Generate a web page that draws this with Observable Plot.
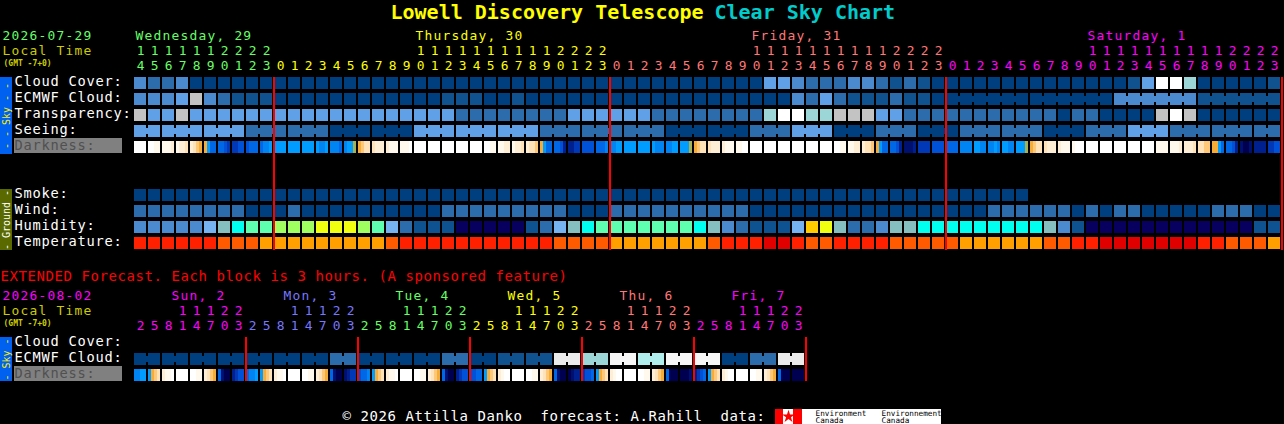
<!DOCTYPE html>
<html>
<head>
<meta charset="utf-8">
<script src="https://cdn.jsdelivr.net/npm/d3@7"></script>
<script src="https://cdn.jsdelivr.net/npm/@observablehq/plot@0.6"></script>
<style>
html,body{margin:0;padding:0;background:#000}svg{display:block}
.sp129 text{letter-spacing:1.23px}
.sp137 text{letter-spacing:0.75px}
.sp14 text{letter-spacing:0.57px}
</style>
</head>
<body>
<div id="chart"></div>
<script>
// ---- palettes (level -> colour) ----
const blueColors = ["#003f7f","#10528f","#2c6cac","#4b8ace","#60a0e6","#9cd6d6","#c3c3c3","#ebebeb","#ffffff","#b0eeee","#f6f6f6"];
const humidColors = ["#08005e","#0f5291","#2c6cac","#4b8ace","#76b3f2","#85bfc0","#00ffee","#5fffb0","#9fff60","#f0ff10","#ffcc00"];
const tempColors = ["#e00000","#ff2000","#ff5a00","#ff9f00"];
const darkColors = ["#ffffff","#fff8ec","#ffeed6","#ffe2b8","#ffc878","#f8ac38","#a8b050","#009cff","#0084f4","#0068e6","#0050d8","#0038b8","#002090","#001070","#000050"];

// ---- hourly forecast rows (one level per column) ----
const cloudCover = [3,2,2,3,0,0,0,0,0,0,0,0,0,0,0,0,0,0,0,0,0,0,0,0,0,0,0,0,0,0,0,0,0,0,0,0,0,0,0,0,0,0,0,0,0,4,4,3,2,2,2,3,3,2,1,2,1,0,0,0,0,0,0,0,0,0,0,0,0,0,0,1,4,8,8,5,0,0,0,0,0,1];
const ecmwfCloud = [3,3,3,4,6,3,2,1,1,1,0,0,0,0,0,0,0,0,0,0,0,0,1,1,1,0,0,1,0,0,0,0,0,0,0,0,0,0,0,0,0,0,0,0,0,0,0,3,2,4,2,1,1,1,2,1,1,0,0,0,0,0,0,0,0,0,0,0,0,0,3,3,3,3,3,3,1,1,1,1,1,1];
const transparency = [6,4,4,6,4,4,4,4,4,4,4,4,4,4,4,4,4,4,4,4,4,4,4,2,2,2,2,2,2,2,2,4,4,4,4,4,4,2,2,2,2,2,2,2,2,5,8,8,5,5,6,6,6,4,4,2,2,2,2,2,2,2,2,2,2,2,0,2,2,0,0,0,0,6,8,6,0,0,0,0,0,0];
const seeing = [4,4,4,4,4,4,4,4,2,2,2,2,2,2,0,0,0,0,0,0,4,4,4,4,4,4,4,4,4,2,2,2,2,2,2,2,2,2,0,0,0,0,0,0,2,2,2,4,4,4,0,0,0,2,2,2,0,0,0,2,2,2,2,2,2,0,0,0,2,2,2,4,4,4,2,2,2,2,2,2,2,2];
// four readings per column, left to right
const darkness = [
0,0,0,0, 0,0,1,1, 1,1,1,2, 1,2,2,3, 2,3,4,5, 5,7,9,9, 9,9,10,11, 11,11,10,10, 10,9,9,9, 9,8,8,7,
7,7,7,7, 7,7,7,7, 7,7,7,7, 7,8,8,7, 8,8,8,9, 8,7,7,6, 5,4,3,3, 3,2,2,2, 2,1,1,1, 1,1,1,0,
0,0,0,0, 0,0,0,0, 0,0,0,0, 0,0,0,0, 0,0,0,0, 0,0,1,1, 1,1,2,2, 1,2,2,3, 2,3,3,4, 5,7,9,9,
9,9,10,12, 12,12,11,11, 10,10,10,10, 9,9,9,8, 8,8,7,7, 7,7,7,7, 7,7,7,7, 7,8,8,8, 8,8,7,7,
7,7,7,6, 5,4,3,3, 3,2,2,2, 2,1,1,1, 1,1,0,0, 0,0,0,0, 0,0,0,0, 0,0,0,0, 0,0,0,0, 0,0,0,0,
0,0,0,0, 0,0,1,1, 1,1,2,2, 2,3,3,4, 5,7,9,9, 9,9,10,12, 13,13,13,12, 11,11,11,11, 10,10,10,10, 9,9,9,9,
8,8,8,8, 7,7,8,8, 8,8,7,8, 7,7,8,8, 7,7,7,6, 5,4,3,3, 3,2,2,2, 2,1,1,1, 1,0,0,0, 0,0,0,0,
0,0,0,0, 0,0,0,0, 0,0,0,0, 0,0,0,0, 1,1,1,1, 1,1,1,2, 2,2,2,3, 3,3,4,4, 5,5,7,9, 9,9,10,12,
13,14,14,13, 12,12,12,12, 11,11,10,10];
const smoke = [0,0,0,0,0,0,0,0,0,0,0,0,0,0,0,0,0,0,0,0,0,0,0,0,0,0,0,0,0,0,0,0,0,0,0,0,0,0,0,0,0,0,0,0,0,0,0,0,0,0,0,0,0,0,0,0,0,0,0,0,0,0,0,0];
const wind = [2,2,2,2,2,2,2,2,0,0,0,2,0,0,0,0,0,0,0,0,0,0,2,2,2,2,2,2,2,2,2,0,0,0,2,2,2,2,2,2,2,2,2,2,0,0,0,0,0,0,0,0,0,0,0,0,0,0,0,0,0,2,2,2,2,2,2,0,2,0,2,2,0,0,0,0,0,2,2,2,0,0];
const humidity = [3,3,3,3,3,4,5,6,7,7,8,8,8,9,9,9,8,7,4,2,1,1,1,0,0,0,0,0,1,2,4,5,6,7,7,7,7,7,7,7,6,5,3,2,1,1,1,4,10,9,5,2,2,3,5,5,6,6,6,6,6,6,6,6,6,5,3,1,0,0,0,0,0,0,0,0,0,0,0,0,1,1];
const temperature = [1,1,1,1,1,1,2,2,2,3,3,3,3,3,3,3,3,3,2,1,1,1,1,1,1,1,1,1,1,1,2,2,2,2,3,3,3,3,3,3,3,2,1,1,1,0,0,1,2,2,1,1,1,1,2,2,2,2,2,3,3,3,3,3,3,2,2,1,1,0,0,0,0,0,0,0,1,1,2,2,2,3];

// ---- extended (3-hour) forecast rows ----
const extEcmwf = [0,0,0,0,0,0,0,0,0,0,0,0,0,0,2,2,0,0,0,0,0,0,2,2,0,0,1,1,1,1,7,7,5,5,10,10,9,9,10,10,10,10,0,0,2,2,7,7];
const extDarkness = [
8,8,7,7, 7,5,4,3, 2,1,1,0, 0,0,0,0, 0,0,1,1, 2,3,4,5, 9,13,14,14, 12,11,10,10,
9,8,8,7, 7,5,4,3, 2,1,1,0, 0,0,0,0, 0,0,1,1, 2,3,4,5, 9,13,14,14, 13,12,11,11,
10,9,9,8, 7,5,4,3, 2,1,1,0, 0,0,0,0, 0,0,1,1, 2,3,4,5, 9,13,14,14, 12,11,10,10,
10,10,9,9, 7,5,4,3, 2,1,0,0, 0,0,0,0, 0,0,1,1, 2,3,4,5, 9,13,14,14, 14,13,12,12,
11,10,10,9, 7,5,4,3, 2,1,0,0, 0,0,0,0, 0,0,1,1, 2,3,4,5, 9,14,14,14, 14,14,14,13,
12,11,10,9, 7,5,4,3, 2,1,0,0, 0,0,0,0, 0,0,1,1, 2,3,4,5, 9,14,14,14, 14,14,14,14];

// ---- labels ----
const skyLabels = ["Cloud Cover:","ECMWF Cloud:","Transparency:","Seeing:","Darkness:"];
const groundLabels = ["Smoke:","Wind:","Humidity:","Temperature:"];
const extLabels = ["Cloud Cover:","ECMWF Cloud:","Darkness:"];
const wedHours = [14,15,16,17,18,19,20,21,22,23];
const fullDayHours = [0,1,2,3,4,5,6,7,8,9,10,11,12,13,14,15,16,17,18,19,20,21,22,23];
const extHours = [2,5,8,11,14,17,20,23];
const GREEN = "#66ff66", YELLOW = "#ffff00", SALMON = "#ff7777", MAGENTA = "#ff00ff", BLUE = "#7777ff", OLIVE = "#cccc00";
const days = [
  {label:"Wednesday, 29", col:0.07, start:0, hours:wedHours, fill:GREEN},
  {label:"Thursday, 30", col:20.07, start:10, hours:fullDayHours, fill:YELLOW},
  {label:"Friday, 31", col:44.07, start:34, hours:fullDayHours, fill:SALMON},
  {label:"Saturday, 1", col:68.07, start:58, hours:fullDayHours, fill:MAGENTA}
];
const extDays = [
  {label:"Sun, 2", col:2.64, start:0, fill:MAGENTA},
  {label:"Mon, 3", col:10.64, start:8, fill:BLUE},
  {label:"Tue, 4", col:18.64, start:16, fill:GREEN},
  {label:"Wed, 5", col:26.64, start:24, fill:YELLOW},
  {label:"Thu, 6", col:34.64, start:32, fill:SALMON},
  {label:"Fri, 7", col:42.64, start:40, fill:MAGENTA}
];
const midnightCols = [10,34,58,82];
const extMidnightCols = [8,16,24,32,40,48];

// ---- layout in grid units: one column = 14px, one row = 16px ----
const W = 1284, H = 424, X0 = 134, Y0 = 77, CW = 14, RH = 16;
const CELL = 12/CW, CELLH = 12/RH;
const EXT = 16.25;
const colPx = p => (p - X0)/CW, rowPx = p => (p - Y0)/RH;
const MONO = "DejaVu Sans Mono";

const colorKeys = [...blueColors.map((_,i)=>"b"+i),...humidColors.map((_,i)=>"h"+i),...tempColors.map((_,i)=>"t"+i),...darkColors.map((_,i)=>"d"+i)];
const colorRange = [...blueColors,...humidColors,...tempColors,...darkColors];

const cells = (values, row, prefix) => values.map((v,i)=>({x1:i,x2:i+CELL,y1:row,y2:row+CELLH,key:prefix+v}));
const links = (values, row, linked) => values.flatMap((v,i)=> i<values.length-1 && linked(i)
  ? [{x1:i+CELL-0.01,x2:i+1.01,y1:row+3/RH,y2:row+9/RH,key:"b"+v}] : []);
const subCells = (values,row) => values.map((v,i)=>{
  const n = Math.floor(i/4), k = i%4;
  return {x1:n+k*3/CW,x2:n+(k+1)*3/CW,y1:row,y2:row+CELLH,key:"d"+v};
});
const blockData = [
  ...cells(cloudCover,0,"b"), ...cells(ecmwfCloud,1,"b"), ...cells(transparency,2,"b"), ...cells(seeing,3,"b"),
  ...links(seeing,3,i=>(i+1)%3!==2),
  ...links(ecmwfCloud,1,i=>i>=58 && (i-57)%6!==0),
  ...subCells(darkness,4),
  ...cells(smoke,7,"b"), ...cells(wind,8,"b"), ...cells(humidity,9,"h"), ...cells(temperature,10,"t"),
  ...cells(extEcmwf,EXT+1,"b"),
  ...links(extEcmwf,EXT+1,i=>i%2===0),
  ...subCells(extDarkness,EXT+2)
];
const rectBlocks = Plot.rect(blockData,{x1:"x1",x2:"x2",y1:"y1",y2:"y2",fill:d=>d.key,shapeRendering:"crispEdges"});

const bands = [
  {x1:colPx(0),x2:colPx(12),y1:rowPx(77),y2:rowPx(154),fill:"#0060f0"},
  {x1:colPx(0),x2:colPx(12),y1:rowPx(189),y2:rowPx(250),fill:"#5a6a00"},
  {x1:colPx(0),x2:colPx(12),y1:rowPx(337),y2:rowPx(381),fill:"#0060f0"},
  {x1:colPx(14),x2:colPx(122),y1:rowPx(138),y2:rowPx(153),fill:"#808080"},
  {x1:colPx(14),x2:colPx(122),y1:rowPx(366),y2:rowPx(381),fill:"#808080"},
  {x1:colPx(775),x2:colPx(941),y1:rowPx(409),y2:rowPx(424),fill:"#ffffff"},
  {x1:colPx(775),x2:colPx(783),y1:rowPx(409),y2:rowPx(424),fill:"#ff0000"},
  {x1:colPx(793),x2:colPx(802),y1:rowPx(409),y2:rowPx(424),fill:"#ff0000"}
];
const bandMarks = bands.map(b=>Plot.rect([b],{x1:"x1",x2:"x2",y1:"y1",y2:"y2",fill:b.fill,shapeRendering:"crispEdges"}));

const spaced = {12.9:"sp129",13.7:"sp137",14:"sp14"};
const label = (text,px,py,fill,fontSize=12.9,extra={}) => Plot.text([text],{
  x:()=>colPx(px),y:()=>rowPx(py),text:d=>d,fill,fontSize,fontFamily:MONO,textAnchor:"start",lineAnchor:"middle",
  ...(spaced[fontSize]?{className:spaced[fontSize]}:{}),...extra});

const textMarks = [
  label("Lowell Discovery Telescope",390,12,"#ffff00",20,{fontWeight:"bold"}),
  label("Clear Sky Chart",714,12,"#00cccc",20,{fontWeight:"bold"}),
  label("2026-07-29",2,35,GREEN),
  label("Local Time",2,50,OLIVE),
  label("(GMT -7+0)",3,62.5,OLIVE,8,{fontWeight:"bold"}),
  label("EXTENDED Forecast. Each block is 3 hours. (A sponsored feature)",0,276,"#ff0000",14),
  label("2026-08-02",2,295,MAGENTA),
  label("Local Time",2,310.5,OLIVE),
  label("(GMT -7+0)",3,323,OLIVE,8,{fontWeight:"bold"}),
  label("\u00a9 2026 Attilla Danko\u00a0\u00a0forecast: A.Rahill\u00a0\u00a0data:",342,416,"#ffffff",14),
  label("Environment",815,413,"#000000",7.7),
  label("Canada",815,420.5,"#000000",7.7),
  label("Environnement",881,413,"#000000",7.7),
  label("Canada",881,420.5,"#000000",7.7)
];
skyLabels.forEach((t,i)=>textMarks.push(label(t,14,81.5+16*i,t==="Darkness:"?"#505050":"#ffffff",13.7)));
groundLabels.forEach((t,i)=>textMarks.push(label(t,14,193.5+16*i,"#ffffff",13.7)));
extLabels.forEach((t,i)=>textMarks.push(label(t,14,341.5+16*i,t==="Darkness:"?"#505050":"#ffffff",13.7)));

const digit = (rows,fill) => Plot.text(rows,{x:d=>d.n+6/CW,y:d=>d.r,text:d=>d.t,fill,fontSize:12.9,fontFamily:MONO,textAnchor:"middle",lineAnchor:"middle"});
const dayLabel = (d,py) => Plot.text([d],{x:"col",y:()=>rowPx(py),text:"label",fill:d.fill,fontSize:12.9,fontFamily:MONO,textAnchor:"start",lineAnchor:"middle",className:"sp129"});
days.forEach(d=>{
  textMarks.push(dayLabel(d,35));
  const ones = d.hours.map((h,i)=>({n:d.start+i,r:rowPx(65),t:String(h%10)}));
  const tens = d.hours.map((h,i)=>({n:d.start+i,r:rowPx(50),t:h>=10?String(Math.floor(h/10)):""})).filter(o=>o.t);
  textMarks.push(digit([...ones,...tens],d.fill));
});
extDays.forEach(d=>{
  textMarks.push(dayLabel(d,295));
  const ones = extHours.map((h,i)=>({n:d.start+i,r:rowPx(325.5),t:String(h%10)}));
  const tens = extHours.map((h,i)=>({n:d.start+i,r:rowPx(310.5),t:h>=10?String(Math.floor(h/10)):""})).filter(o=>o.t);
  textMarks.push(digit([...ones,...tens],d.fill));
});

const vertical = (text,py,fill) => Plot.text([text],{x:()=>colPx(6),y:()=>rowPx(py),text:d=>d,fill,fontSize:10,fontFamily:MONO,rotate:-90,textAnchor:"middle",lineAnchor:"middle"});

const chart = Plot.plot({
  width:W, height:H, margin:0,
  style:{background:"#000",display:"block"},
  x:{axis:null,domain:[colPx(0),colPx(W)],range:[0,W]},
  y:{axis:null,domain:[rowPx(0),rowPx(H)],range:[0,H]},
  color:{type:"ordinal",domain:colorKeys,range:colorRange},
  marks:[
    ...bandMarks,
    rectBlocks,
    Plot.ruleX(midnightCols,{x:d=>d,y1:()=>rowPx(77),y2:()=>rowPx(250),stroke:"#ff0000",strokeWidth:2,dx:-0.5,shapeRendering:"crispEdges"}),
    Plot.ruleX(extMidnightCols,{x:d=>d,y1:()=>rowPx(337),y2:()=>rowPx(381),stroke:"#ff0000",strokeWidth:2,dx:-0.5,shapeRendering:"crispEdges"}),
    Plot.dot(["maple"],{x:()=>colPx(788),y:()=>rowPx(416),symbol:"star",r:4,fill:"#ff0000"}),
    vertical("- - Sky - -",115.5,"#ffee00"),
    vertical("- Ground -",219.5,"#ffffff"),
    vertical("- Sky -",359,"#ffee00"),
    ...textMarks
  ]
});
document.getElementById("chart").append(chart);
</script>
</body>
</html>
